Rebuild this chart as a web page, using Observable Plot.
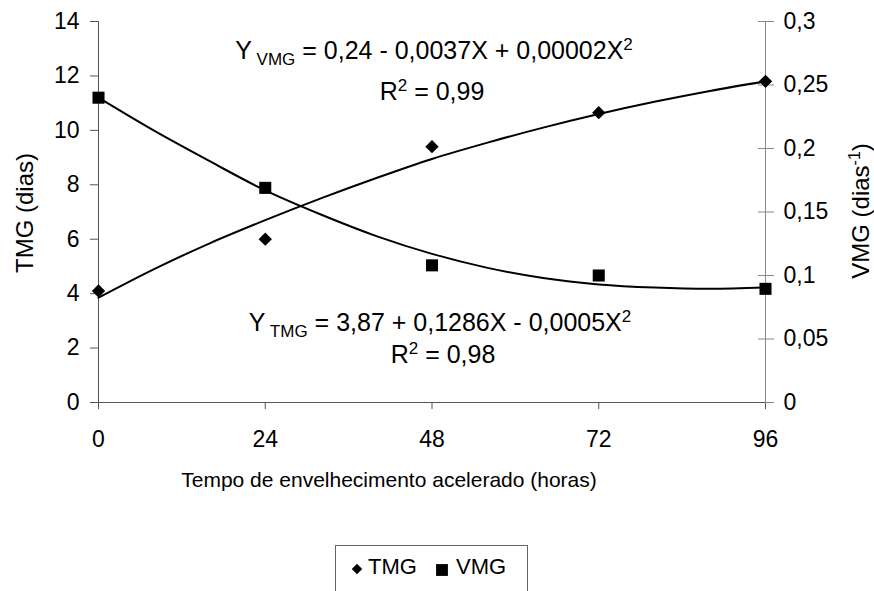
<!DOCTYPE html>
<html>
<head>
<meta charset="utf-8">
<script src="https://cdn.jsdelivr.net/npm/d3@7"></script>
<script src="https://cdn.jsdelivr.net/npm/@observablehq/plot@0.6"></script>
<style>
  body { margin: 0; background: #fff; font-family: "Liberation Sans", Arial, sans-serif; }
  #wrap { position: relative; width: 874px; height: 591px; overflow: hidden; }
  #legend { position: absolute; left: 335px; top: 545px; }
</style>
</head>
<body>
<div id="wrap">
  <div id="chart"></div>
  <div id="legend"></div>
</div>
<script>
// ---- data ----
const hours = [0, 24, 48, 72, 96];
const tmgObs = [4.1, 6.0, 9.4, 10.65, 11.8];          // TMG (dias), left axis
const vmgObs = [0.24, 0.169, 0.108, 0.1, 0.0895];      // VMG (dias^-1), right axis

const fitHours = [0, 8, 16, 24, 32, 40, 48, 56, 64, 72, 80, 88, 96];
const tmgFit = [3.85, 4.9, 5.85, 6.7, 7.5, 8.25, 8.95, 9.55, 10.1, 10.6, 11.05, 11.45, 11.8];
const vmgFit = [0.24, 0.214, 0.19, 0.167, 0.148, 0.131, 0.117, 0.106, 0.098, 0.093, 0.0905, 0.0895, 0.0905];

const xTicks = [0, 24, 48, 72, 96];
const leftTicks = [0, 2, 4, 6, 8, 10, 12, 14];
const rightTicks = [0, 0.05, 0.1, 0.15, 0.2, 0.25, 0.3];

const eqVMG = ["Y", " VMG", " = 0,24 - 0,0037X + 0,00002X", "2"];
const r2VMG = ["R", "2", " = 0,99"];
const eqTMG = ["Y", " TMG", " = 3,87 + 0,1286X - 0,0005X", "2"];
const r2TMG = ["R", "2", " = 0,98"];
const xTitle = "Tempo de envelhecimento acelerado (horas)";
const leftTitle = "TMG (dias)";
const rightTitle = ["VMG (dias", "-1", ")"];
const seriesNames = ["TMG", "VMG"];

// ---- tables ----
const k = 14 / 0.3; // right-axis value -> left-axis units
const obsTMG = hours.map((h, i) => ({h, v: tmgObs[i]}));
const obsVMG = hours.map((h, i) => ({h, v: vmgObs[i] * k}));
const fitTMG = fitHours.map((h, i) => ({h, v: tmgFit[i]}));
const fitVMG = fitHours.map((h, i) => ({h, v: vmgFit[i] * k}));
const comma = v => String(+v.toFixed(2)).replace(".", ",");

const FONT = "Liberation Sans, Arial, sans-serif";
const axisLeftColor = "#555";
const axisRightColor = "#888";
const TICK_FS = 23;

const plot = Plot.plot({
  width: 874,
  height: 510,
  marginLeft: 98,
  marginRight: 109,
  marginTop: 21,
  marginBottom: 108,
  style: {fontFamily: FONT, background: "#fff", color: "#000"},
  x: {domain: [0, 96]},
  y: {domain: [0, 14]},
  marks: [
    Plot.axisX(xTicks, {anchor: "bottom", tickSize: 7, tickPadding: 21, fontSize: TICK_FS, stroke: axisLeftColor, label: null, tickFormat: d => String(d)}),
    Plot.axisY(leftTicks, {anchor: "left", tickSize: 8, tickPadding: 11, fontSize: TICK_FS, stroke: axisLeftColor, label: null, tickFormat: d => String(d)}),
    Plot.axisY(rightTicks.map(v => v * k), {anchor: "right", tickSize: 16, dx: -8, tickPadding: 10, fontSize: TICK_FS, stroke: axisRightColor, label: null, tickFormat: d => comma(d / k)}),
    Plot.ruleY([0], {stroke: axisLeftColor}),
    Plot.ruleX([0], {stroke: axisLeftColor}),
    Plot.ruleX([96], {stroke: axisRightColor}),
    Plot.line(fitTMG, {x: "h", y: "v", stroke: "#000", strokeWidth: 2, curve: "catmull-rom"}),
    Plot.line(fitVMG, {x: "h", y: "v", stroke: "#000", strokeWidth: 2, curve: "catmull-rom"}),
    Plot.dot(obsTMG, {x: "h", y: "v", symbol: "diamond2", r: 6, fill: "#000", stroke: null}),
    Plot.dot(obsVMG, {x: "h", y: "v", symbol: "square", r: 6.8, fill: "#000", stroke: null})
  ]
});
document.getElementById("chart").appendChild(plot);

// ---- annotations ----
const svg = d3.select(plot);
function rich(x, y, parts, kinds, size, anchor = "middle", rotate = 0, subSize = 0.68) {
  const t = svg.append("text")
    .attr("text-anchor", anchor)
    .attr("transform", `translate(${x},${y}) rotate(${rotate})`)
    .style("font-family", FONT).style("font-size", size + "px").attr("fill", "#000");
  let shift = 0;
  parts.forEach((p, i) => {
    const kind = kinds[i];
    const target = kind === "sub" ? Math.round(size * 0.22) : kind === "sup" ? -Math.round(size * 0.36) : 0;
    const s = t.append("tspan").attr("dy", target - shift).text(p);
    if (kind !== "n") s.style("font-size", Math.round(size * subSize) + "px");
    shift = target;
  });
  return t;
}
rich(434, 59, eqVMG, ["n", "sub", "n", "sup"], 25);
rich(432, 100, r2VMG, ["n", "sup", "n"], 25);
rich(440, 331, eqTMG, ["n", "sub", "n", "sup"], 25);
rich(443, 363, r2TMG, ["n", "sup", "n"], 25);
rich(389, 487, [xTitle], ["n"], 21);
rich(33, 213, [leftTitle], ["n"], 24, "middle", -90);
rich(869, 211, rightTitle, ["n", "sup", "n"], 24, "middle", -90);

// ---- legend ----
const lg = d3.select("#legend").append("svg").attr("width", 193).attr("height", 52);
lg.append("rect").attr("x", 0.5).attr("y", 0.5).attr("width", 192).attr("height", 60)
  .attr("fill", "#fff").attr("stroke", "#666");
lg.append("path").attr("d", d3.symbol(d3.symbolDiamond2, 70)()).attr("transform", "translate(22,24)").attr("fill", "#000");
lg.append("text").attr("x", 33).attr("y", 29).style("font-family", FONT).style("font-size", "22px").text(seriesNames[0]);
lg.append("path").attr("d", d3.symbol(d3.symbolSquare, 140)()).attr("transform", "translate(107,25)").attr("fill", "#000");
lg.append("text").attr("x", 121).attr("y", 29).style("font-family", FONT).style("font-size", "22px").text(seriesNames[1]);
</script>
</body>
</html>
